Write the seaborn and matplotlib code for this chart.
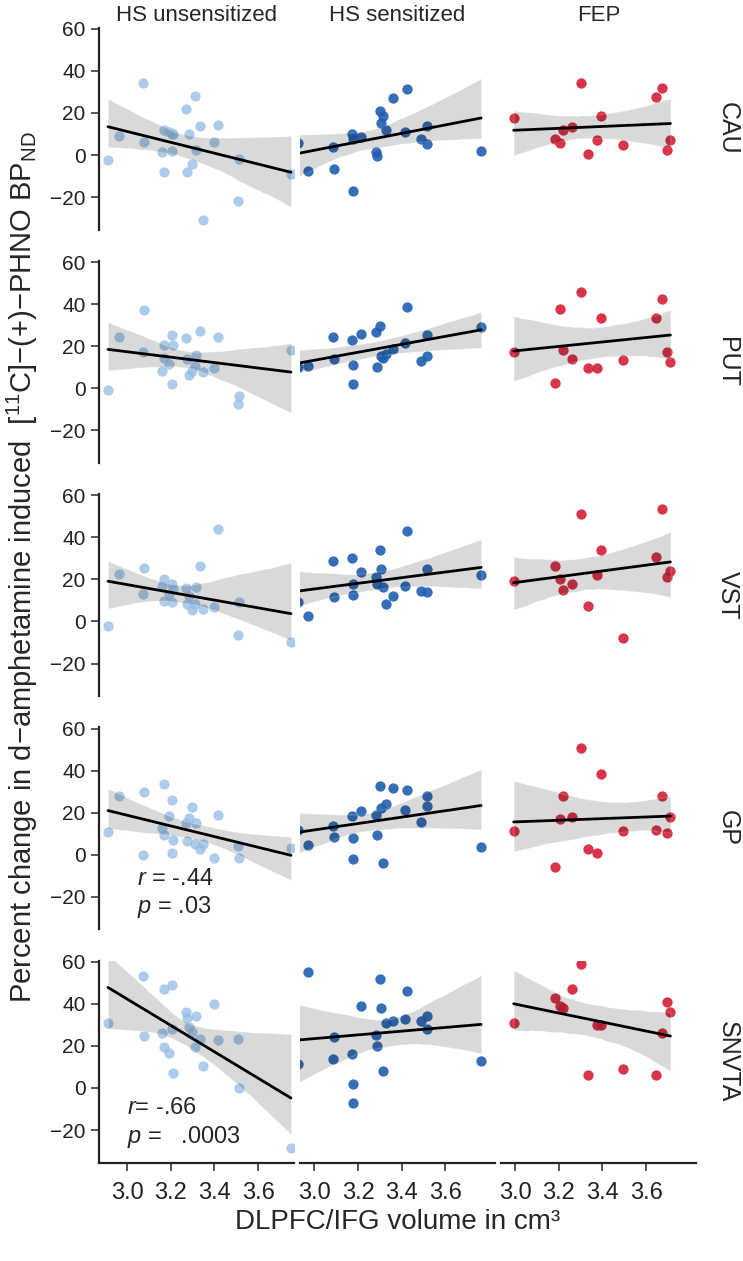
import numpy as np
import pandas as pd
import matplotlib
matplotlib.use("Agg")
import matplotlib.pyplot as plt
import seaborn as sns

groups = ["HS unsensitized", "HS sensitized", "FEP"]
regions = ["CAU", "PUT", "VST", "GP", "SNVTA"]

# DLPFC/IFG volume (cm3), one value per subject
x_unsens = [2.913, 2.962, 3.073, 3.076, 3.160, 3.167, 3.167, 3.190, 3.205, 3.205, 3.210, 3.270,
            3.276, 3.285, 3.296, 3.310, 3.316, 3.335, 3.346, 3.400, 3.415, 3.507, 3.513, 3.750]
x_sens = [2.925, 2.972, 3.084, 3.088, 3.171, 3.179, 3.179, 3.213, 3.282, 3.288, 3.300,
          3.304, 3.315, 3.327, 3.358, 3.414, 3.426, 3.487, 3.517, 3.517, 3.763]
x_fep = [2.994, 3.184, 3.205, 3.222, 3.260, 3.301, 3.336, 3.377, 3.395, 3.492, 3.647, 3.673, 3.697, 3.711]

# percent change in d-amphetamine induced BPND
cau_unsens = [-2.5, 9.0, 34.0, 6.0, 1.3, -7.9, 11.9, 11.0, 9.8, 2.0, 10.0, 21.7,
              -7.9, 9.8, -4.4, 28.0, 2.4, 13.8, -30.7, 6.3, 14.2, -22.1, -2.0, -9.0]
put_unsens = [-0.9, 24.4, 17.3, 37.0, 8.3, 20.6, 14.3, 11.4, 25.2, 2.2, 20.6, 23.7,
              13.8, 6.4, 8.0, 10.6, 15.8, 27.2, 7.9, 9.5, 24.4, -7.5, -3.6, 18.1]
vst_unsens = [-2.2, 22.5, 12.9, 25.6, 16.9, 9.7, 20.1, 13.0, 18.0, 9.3, 15.6, 16.1,
              8.3, 12.0, 5.4, 8.3, 16.4, 26.4, 5.8, 7.0, 43.8, -6.4, 9.3, -9.9]
gp_unsens = [10.8, 27.8, -0.1, 29.9, 12.8, 33.8, 9.3, 18.3, 25.8, 0.9, 6.9, 15.2,
             6.5, 17.5, 22.7, 5.3, 15.2, 2.6, 5.3, -1.7, 18.8, 4.2, -1.7, 3.3]
snvta_unsens = [31.0, np.nan, 53.4, 24.5, 26.2, 47.1, 19.4, 16.8, 49.1, 27.8, 7.3, 36.3,
                33.3, 28.9, 26.5, 19.4, 34.0, 23.4, 10.4, 40.0, 22.6, 23.4, 0.0, -28.7]

cau_sens = [5.6, -7.4, 4.0, -6.6, 10.0, 7.5, -17.3, 8.4, 1.6, -0.3, 20.9,
            15.3, 18.6, 11.9, 27.1, 10.8, 31.4, 7.5, 13.8, 5.2, 2.1]
put_sens = [10.2, 10.6, 24.5, 13.8, 22.9, 11.1, 2.0, 25.6, 26.9, 10.2, 29.6,
            15.4, 14.3, 16.5, 18.8, 21.7, 38.6, 13.0, 25.2, 15.4, 29.1]
vst_sens = [9.3, 2.7, 28.8, 11.7, 30.3, 18.0, 12.8, 23.6, 21.2, 18.0, 33.8,
            24.8, 16.4, 8.1, 12.2, 16.9, 42.8, 14.4, 24.8, 13.8, 22.3]
gp_sens = [11.6, 4.6, 13.6, 8.6, 18.3, 8.1, -2.2, 20.7, 18.7, 9.2, 32.9,
           22.3, -3.8, 23.9, 31.7, 21.5, 30.6, 15.6, 27.8, 23.1, 3.8]
snvta_sens = [11.6, 55.3, 14.0, 24.0, 16.0, 2.0, -7.0, 39.0, 25.0, 20.0, 52.0,
              38.0, 8.0, 31.0, 32.0, 33.0, 46.0, 32.0, 34.0, 28.0, 13.0]

cau_fep = [17.4, 7.5, 5.6, 11.9, 13.1, 34.4, 0.5, 7.1, 18.5, 4.6, 27.6, 31.9, 2.4, 7.1]
put_fep = [17.3, 2.7, 37.5, 18.1, 14.1, 45.8, 9.4, 9.4, 33.5, 13.5, 33.5, 42.2, 17.3, 12.7]
vst_fep = [19.1, 26.4, 20.4, 14.9, 18.0, 51.2, 7.5, 22.0, 34.1, -8.0, 30.7, 53.5, 21.2, 23.9]
gp_fep = [11.2, -5.6, 16.9, 27.7, 18.0, 50.7, 2.6, 1.0, 38.4, 11.2, 11.7, 27.7, 10.4, 18.0]
snvta_fep = [31.0, 43.0, 39.0, 38.0, 47.0, 59.0, 6.0, 30.0, 30.0, 9.0, 6.0, 26.0, 41.0, 36.0]

x_data = {"HS unsensitized": x_unsens, "HS sensitized": x_sens, "FEP": x_fep}
y_data = {
    "CAU": [cau_unsens, cau_sens, cau_fep],
    "PUT": [put_unsens, put_sens, put_fep],
    "VST": [vst_unsens, vst_sens, vst_fep],
    "GP": [gp_unsens, gp_sens, gp_fep],
    "SNVTA": [snvta_unsens, snvta_sens, snvta_fep],
}
colors = ["#92bce5", "#1f5fb0", "#d41e36"]
alphas = [0.75, 0.9, 0.9]
x_limits = [(2.871, 3.764), (2.934, 3.827), (2.936, 3.829)]

sns.set_style("ticks")
plt.rcParams["font.family"] = ["Liberation Sans", "DejaVu Sans"]
plt.rcParams["mathtext.fontset"] = "custom"
plt.rcParams["mathtext.rm"] = "Liberation Sans"
plt.rcParams["mathtext.it"] = "Liberation Sans:italic"

fig, axes = plt.subplots(5, 3, figsize=(7.43, 12.61), dpi=100)
fig.subplots_adjust(left=0.133, right=0.937, top=0.978, bottom=0.078,
                    wspace=0.03, hspace=0.155)

for i, reg in enumerate(regions):
    for j, grp in enumerate(groups):
        ax = axes[i, j]
        df = pd.DataFrame({"x": x_data[grp], "y": y_data[reg][j]}).dropna()
        sns.regplot(data=df, x="x", y="y", ax=ax, color=colors[j], seed=3,
                    scatter_kws={"s": 55, "alpha": alphas[j], "linewidths": 0},
                    line_kws={"color": "black", "lw": 2})
        ax.set_xlim(*x_limits[j])
        ax.set_ylim(-35.5, 60.5)
        ax.set_xlabel("")
        ax.set_ylabel("")
        for s in ["top", "right"]:
            ax.spines[s].set_visible(False)
        ax.spines["left"].set_visible(j == 0)
        ax.spines["bottom"].set_visible(i == 4)
        for s in ["left", "bottom"]:
            ax.spines[s].set_linewidth(1.6)
            ax.spines[s].set_color("#222222")
        ax.set_yticks([-20, 0, 20, 40, 60])
        ax.set_xticks([3.0, 3.2, 3.4, 3.6])
        ax.tick_params(axis="y", left=(j == 0), labelleft=(j == 0), length=6,
                       width=1.4, color="#555555", labelsize=15, labelcolor="#222222")
        ax.tick_params(axis="x", bottom=(i == 4), labelbottom=(i == 4), length=6,
                       width=1.4, color="#555555", labelsize=17, labelcolor="#222222", pad=8)
        if i == 0:
            ax.set_title(grp, fontsize=16, pad=5)
        if j == 2:
            ax.text(1.16, 0.5, reg, transform=ax.transAxes, rotation=-90,
                    ha="center", va="center", fontsize=18)

axes[3, 0].text(3.047, -11.5, "$r$ = -.44", fontsize=17, va="center")
axes[3, 0].text(3.047, -25.0, "$p$ = .03", fontsize=17, va="center")
axes[4, 0].text(3.0, -9.6, "$r$= -.66", fontsize=17, va="center")
axes[4, 0].text(3.0, -23.3, "$p$ =   .0003", fontsize=17, va="center")

fig.text(0.03, 0.55,
         "Percent change in d\u2212amphetamine induced  [$^{11}$C]\u2212(+)\u2212PHNO BP$_{\\mathrm{ND}}$",
         rotation=90, ha="center", va="center", fontsize=21)
fig.text(0.535, 0.031, "DLPFC/IFG volume in cm\u00b3", ha="center", va="center", fontsize=20)

fig.savefig("out.png", dpi=100)
